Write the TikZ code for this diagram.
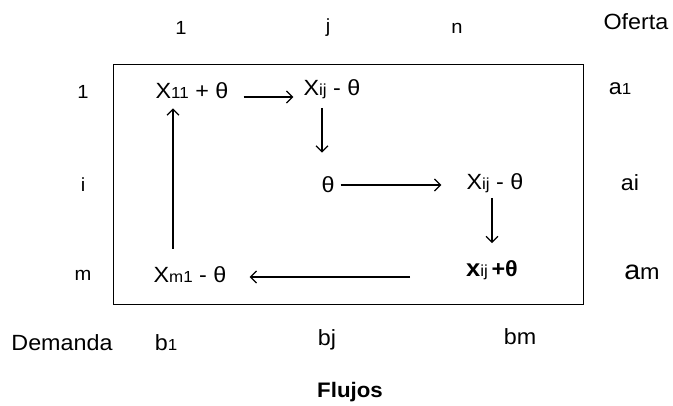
\documentclass[tikz,border=0pt]{standalone}
\usepackage{fontspec}
\setmainfont{Liberation Sans}[FakeStretch=1.06]
\usetikzlibrary{arrows.meta}
\newcommand\sm[1]{{\fontsize{16}{16}\selectfont #1}}
\begin{document}
\begin{tikzpicture}[x=1pt,y=-1pt,
  lab/.style={font=\fontsize{22}{25}\selectfont, inner sep=0pt},
  idx/.style={font=\fontsize{19}{22}\selectfont, inner sep=0pt},
  arr/.style={line width=1.3pt, -{Straight Barb[length=6pt,width=12pt,line width=1.3pt]}},
  frame/.style={draw, line width=1.4pt, minimum width=470pt, minimum height=240pt, inner sep=0pt, anchor=north west}]
\useasboundingbox (0,0) rectangle (673,405);
\node[frame] (box) at (113,64) {};
% column and row indices
\node[idx] (c1) at (181,28) {1};
\node[idx] (cj) at (328,28) {j};
\node[idx] (cn) at (457,28) {n};
\node[lab] (of) at (636,22) {Oferta};
\node[idx] (r1) at (83,92) {1};
\node[idx] (ri) at (83,185) {i};
\node[idx] (rm) at (83,275) {m};
\node[lab] (a1) at (620,89) {a\sm{1}};
\node[lab] (ai) at (630,183) {ai};
\node[lab] (am) at (642,272) {{\fontsize{27}{27}\selectfont a}m};
\node[lab] (dem) at (62,343) {Demanda};
\node[lab] (b1) at (166,343) {b\sm{1}};
\node[lab] (bj) at (327,340) {bj};
\node[lab] (bm) at (520,337) {bm};
\node[lab, font=\bfseries\fontsize{21}{24}\selectfont] (fl) at (350,392) {Flujos};
% cells
\node[lab] (x11) at (192,91) {X\sm{11} + θ};
\node[lab] (xij1) at (332,89) {X\sm{ij} - θ};
\node[lab] (th) at (328,185) {θ};
\node[lab] (xij2) at (495,183) {X\sm{ij} - θ};
\node[lab] (xij3) at (492,270) {{\bfseries\fontsize{24}{24}\selectfont x}\sm{ij}\,\textbf{+θ}};
\node[lab] (xm1) at (190,275) {X\sm{m1} - θ};
% cycle
\draw[arr, shorten <=15pt, shorten >=10pt] ([yshift=-6pt]x11.east) -- ([yshift=-6pt]x11.east -| xij1.west);
\draw[arr, shorten <=9pt, shorten >=24pt] ([xshift=-10pt]xij1.south) -- ([xshift=-10pt]xij1.south |- th.north);
\draw[arr, shorten <=6pt, shorten >=25pt] (th.east) -- (th.east -| xij2.west);
\draw[arr, shorten <=5pt, shorten >=17pt] ([xshift=-3pt]xij2.south) -- ([xshift=-3pt]xij2.south |- xij3.north);
\draw[arr, shorten <=56pt, shorten >=23pt] ([yshift=-7pt]xij3.west) -- ([yshift=-7pt]xij3.west -| xm1.east);
\draw[arr, shorten <=18pt, shorten >=9pt] ([xshift=-17pt]xm1.north) -- ([xshift=-17pt]xm1.north |- x11.south);
\end{tikzpicture}
\end{document}
